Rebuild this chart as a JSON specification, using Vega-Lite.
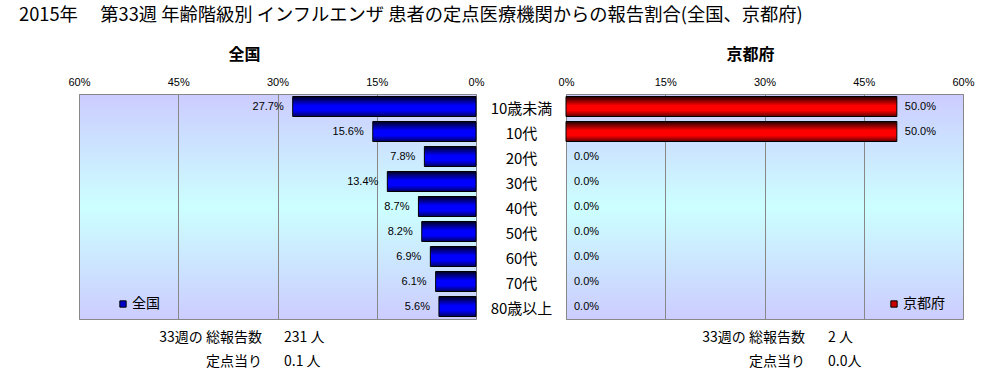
{
  "$schema": "https://vega.github.io/schema/vega-lite/v6.json",
  "padding": {"left": 19, "top": 5, "right": 5, "bottom": 5},
  "background": "white",
  "title": {
    "text": "2015年　 第33週 年齢階級別 インフルエンザ 患者の定点医療機関からの報告割合(全国、京都府)",
    "anchor": "start", "font": "Noto Sans CJK JP", "fontSize": 18.3, "fontWeight": "normal", "color": "black", "offset": 21
  },
  "config": {
    "font": "Noto Sans CJK JP",
    "view": {
      "fill": {"gradient": "linear", "x1": 0, "y1": 0, "x2": 0, "y2": 1,
        "stops": [{"offset": 0, "color": "#ccccff"}, {"offset": 0.5, "color": "#ccffff"}, {"offset": 1, "color": "#ccccff"}]},
      "stroke": "#888888", "strokeWidth": 1
    },
    "text": {"color": "black"}
  },
  "datasets": {
    "zenkoku": [
      {"age": "10歳未満", "value": 0.277, "region": "全国"},
      {"age": "10代", "value": 0.156, "region": "全国"},
      {"age": "20代", "value": 0.078, "region": "全国"},
      {"age": "30代", "value": 0.134, "region": "全国"},
      {"age": "40代", "value": 0.087, "region": "全国"},
      {"age": "50代", "value": 0.082, "region": "全国"},
      {"age": "60代", "value": 0.069, "region": "全国"},
      {"age": "70代", "value": 0.061, "region": "全国"},
      {"age": "80歳以上", "value": 0.056, "region": "全国"}
    ],
    "kyoto": [
      {"age": "10歳未満", "value": 0.5, "region": "京都府"},
      {"age": "10代", "value": 0.5, "region": "京都府"},
      {"age": "20代", "value": 0, "region": "京都府"},
      {"age": "30代", "value": 0, "region": "京都府"},
      {"age": "40代", "value": 0, "region": "京都府"},
      {"age": "50代", "value": 0, "region": "京都府"},
      {"age": "60代", "value": 0, "region": "京都府"},
      {"age": "70代", "value": 0, "region": "京都府"},
      {"age": "80歳以上", "value": 0, "region": "京都府"}
    ],
    "foot_z": [
      {"row": 1, "label": "33週の 総報告数", "value": "231 人"},
      {"row": 2, "label": "定点当り", "value": "0.1 人"}
    ],
    "foot_k": [
      {"row": 1, "label": "33週の 総報告数", "value": "2 人"},
      {"row": 2, "label": "定点当り", "value": "0.0人"}
    ],
    "blank": []
  },
  "spacing": 0,
  "resolve": {"scale": {"x": "independent", "y": "independent", "color": "independent"}, "legend": {"color": "independent"}},
  "hconcat": [
    {
      "width": 48, "height": 10,
      "view": {"fill": "white", "stroke": null},
      "data": {"name": "blank"},
      "mark": {"type": "point"},
      "encoding": {}
    },
    {
      "spacing": 6,
      "resolve": {"scale": {"x": "independent", "y": "independent", "color": "independent"}},
      "vconcat": [
        {
          "width": 397, "height": 225,
          "data": {"name": "zenkoku"},
          "title": {"text": "全国", "dx": -33, "fontSize": 16, "fontWeight": "bold", "font": "Noto Sans CJK JP", "color": "black", "offset": 14},
          "encoding": {
            "y": {"field": "age", "type": "nominal", "sort": null,
              "scale": {"paddingInner": 0.2, "paddingOuter": 0.1},
              "axis": {"orient": "right", "title": null, "domain": false, "ticks": false, "grid": false,
                "labelAlign": "center", "labelPadding": 45, "minExtent": 80, "maxExtent": 80,
                "labelFont": "Noto Sans CJK JP", "labelFontSize": 15, "labelColor": "black", "labelOffset": 2}},
            "x": {"field": "value", "type": "quantitative",
              "scale": {"domain": [0, 0.6], "reverse": true, "nice": false},
              "axis": {"orient": "top", "values": [0, 0.15, 0.3, 0.45, 0.6], "format": ".0%", "title": null,
                "grid": true, "gridColor": "#888888", "gridOpacity": 1, "domain": false, "ticks": false,
                "labelPadding": 6.5, "labelFont": "Liberation Sans", "labelFontSize": 11, "labelColor": "black",
                "labelFlush": false, "labelOverlap": false}}
          },
          "layer": [
            {
              "transform": [{"filter": "datum.value > 0"}],
              "mark": {"type": "bar", "stroke": "black", "strokeWidth": 1,
                "fill": {"gradient": "linear", "x1": 0, "y1": 0, "x2": 0, "y2": 1,
                  "stops": [{"offset": 0, "color": "#000020"}, {"offset": 0.45, "color": "#0000ff"}, {"offset": 0.7, "color": "#0000ff"}, {"offset": 1, "color": "#000060"}]}}
            },
            {
              "mark": {"type": "text", "align": "right", "baseline": "middle", "dx": -9, "font": "Liberation Sans", "fontSize": 11, "color": "black"},
              "encoding": {"text": {"field": "value", "format": ".1%"}}
            },
            {
              "mark": {"type": "square", "opacity": 0, "filled": true},
              "encoding": {
                "color": {"field": "region", "type": "nominal", "scale": {"range": ["#0000cc"]},
                  "legend": {"orient": "none", "legendX": 37, "legendY": 203, "title": null, "symbolType": "square",
                    "symbolSize": 40, "symbolOpacity": 1, "symbolStrokeColor": "black", "symbolStrokeWidth": 1,
                    "labelFont": "Noto Sans CJK JP", "labelFontSize": 14, "labelColor": "black", "labelOffset": 2, "padding": 0}}
              }
            }
          ]
        },
        {
          "width": 397, "height": 48,
          "view": {"stroke": null, "fill": null},
          "data": {"name": "foot_z"},
          "encoding": {"y": {"field": "row", "type": "ordinal", "scale": {"type": "point", "padding": 0.5}, "axis": null}},
          "layer": [
            {
              "mark": {"type": "text", "align": "right", "baseline": "middle", "font": "Noto Sans CJK JP", "fontSize": 14, "color": "black"},
              "encoding": {
                "x": {"datum": "label", "type": "nominal", "scale": {"type": "point", "padding": 0, "domain": ["label", "value"], "range": [183, 205]}, "axis": null},
                "text": {"field": "label"}
              }
            },
            {
              "mark": {"type": "text", "align": "left", "baseline": "middle", "font": "Noto Sans CJK JP", "fontSize": 14, "color": "black"},
              "encoding": {
                "x": {"datum": "value", "type": "nominal"},
                "text": {"field": "value"}
              }
            }
          ]
        }
      ]
    },
    {
      "spacing": 6,
      "resolve": {"scale": {"x": "independent", "y": "independent", "color": "independent"}},
      "vconcat": [
        {
          "width": 397, "height": 225,
          "data": {"name": "kyoto"},
          "title": {"text": "京都府", "dx": -14, "fontSize": 16, "fontWeight": "bold", "font": "Noto Sans CJK JP", "color": "black", "offset": 14},
          "encoding": {
            "y": {"field": "age", "type": "nominal", "sort": null,
              "scale": {"paddingInner": 0.2, "paddingOuter": 0.1}, "axis": null},
            "x": {"field": "value", "type": "quantitative",
              "scale": {"domain": [0, 0.6], "nice": false},
              "axis": {"orient": "top", "values": [0, 0.15, 0.3, 0.45, 0.6], "format": ".0%", "title": null,
                "grid": true, "gridColor": "#888888", "gridOpacity": 1, "domain": false, "ticks": false,
                "labelPadding": 6.5, "labelFont": "Liberation Sans", "labelFontSize": 11, "labelColor": "black",
                "labelFlush": false, "labelOverlap": false}}
          },
          "layer": [
            {
              "transform": [{"filter": "datum.value > 0"}],
              "mark": {"type": "bar", "stroke": "black", "strokeWidth": 1,
                "fill": {"gradient": "linear", "x1": 0, "y1": 0, "x2": 0, "y2": 1,
                  "stops": [{"offset": 0, "color": "#200000"}, {"offset": 0.45, "color": "#ff0000"}, {"offset": 0.7, "color": "#ff0000"}, {"offset": 1, "color": "#600000"}]}}
            },
            {
              "mark": {"type": "text", "align": "left", "baseline": "middle", "dx": 8, "font": "Liberation Sans", "fontSize": 11, "color": "black"},
              "encoding": {"text": {"field": "value", "format": ".1%"}}
            },
            {
              "mark": {"type": "square", "opacity": 0, "filled": true},
              "encoding": {
                "color": {"field": "region", "type": "nominal", "scale": {"range": ["#cc0000"]},
                  "legend": {"orient": "none", "legendX": 321, "legendY": 203, "title": null, "symbolType": "square",
                    "symbolSize": 40, "symbolOpacity": 1, "symbolStrokeColor": "black", "symbolStrokeWidth": 1,
                    "labelFont": "Noto Sans CJK JP", "labelFontSize": 14, "labelColor": "black", "labelOffset": 2, "padding": 0}}
              }
            }
          ]
        },
        {
          "width": 397, "height": 48,
          "view": {"stroke": null, "fill": null},
          "data": {"name": "foot_k"},
          "encoding": {"y": {"field": "row", "type": "ordinal", "scale": {"type": "point", "padding": 0.5}, "axis": null}},
          "layer": [
            {
              "mark": {"type": "text", "align": "right", "baseline": "middle", "font": "Noto Sans CJK JP", "fontSize": 14, "color": "black"},
              "encoding": {
                "x": {"datum": "label", "type": "nominal", "scale": {"type": "point", "padding": 0, "domain": ["label", "value"], "range": [239, 262]}, "axis": null},
                "text": {"field": "label"}
              }
            },
            {
              "mark": {"type": "text", "align": "left", "baseline": "middle", "font": "Noto Sans CJK JP", "fontSize": 14, "color": "black"},
              "encoding": {
                "x": {"datum": "value", "type": "nominal"},
                "text": {"field": "value"}
              }
            }
          ]
        }
      ]
    }
  ]
}
